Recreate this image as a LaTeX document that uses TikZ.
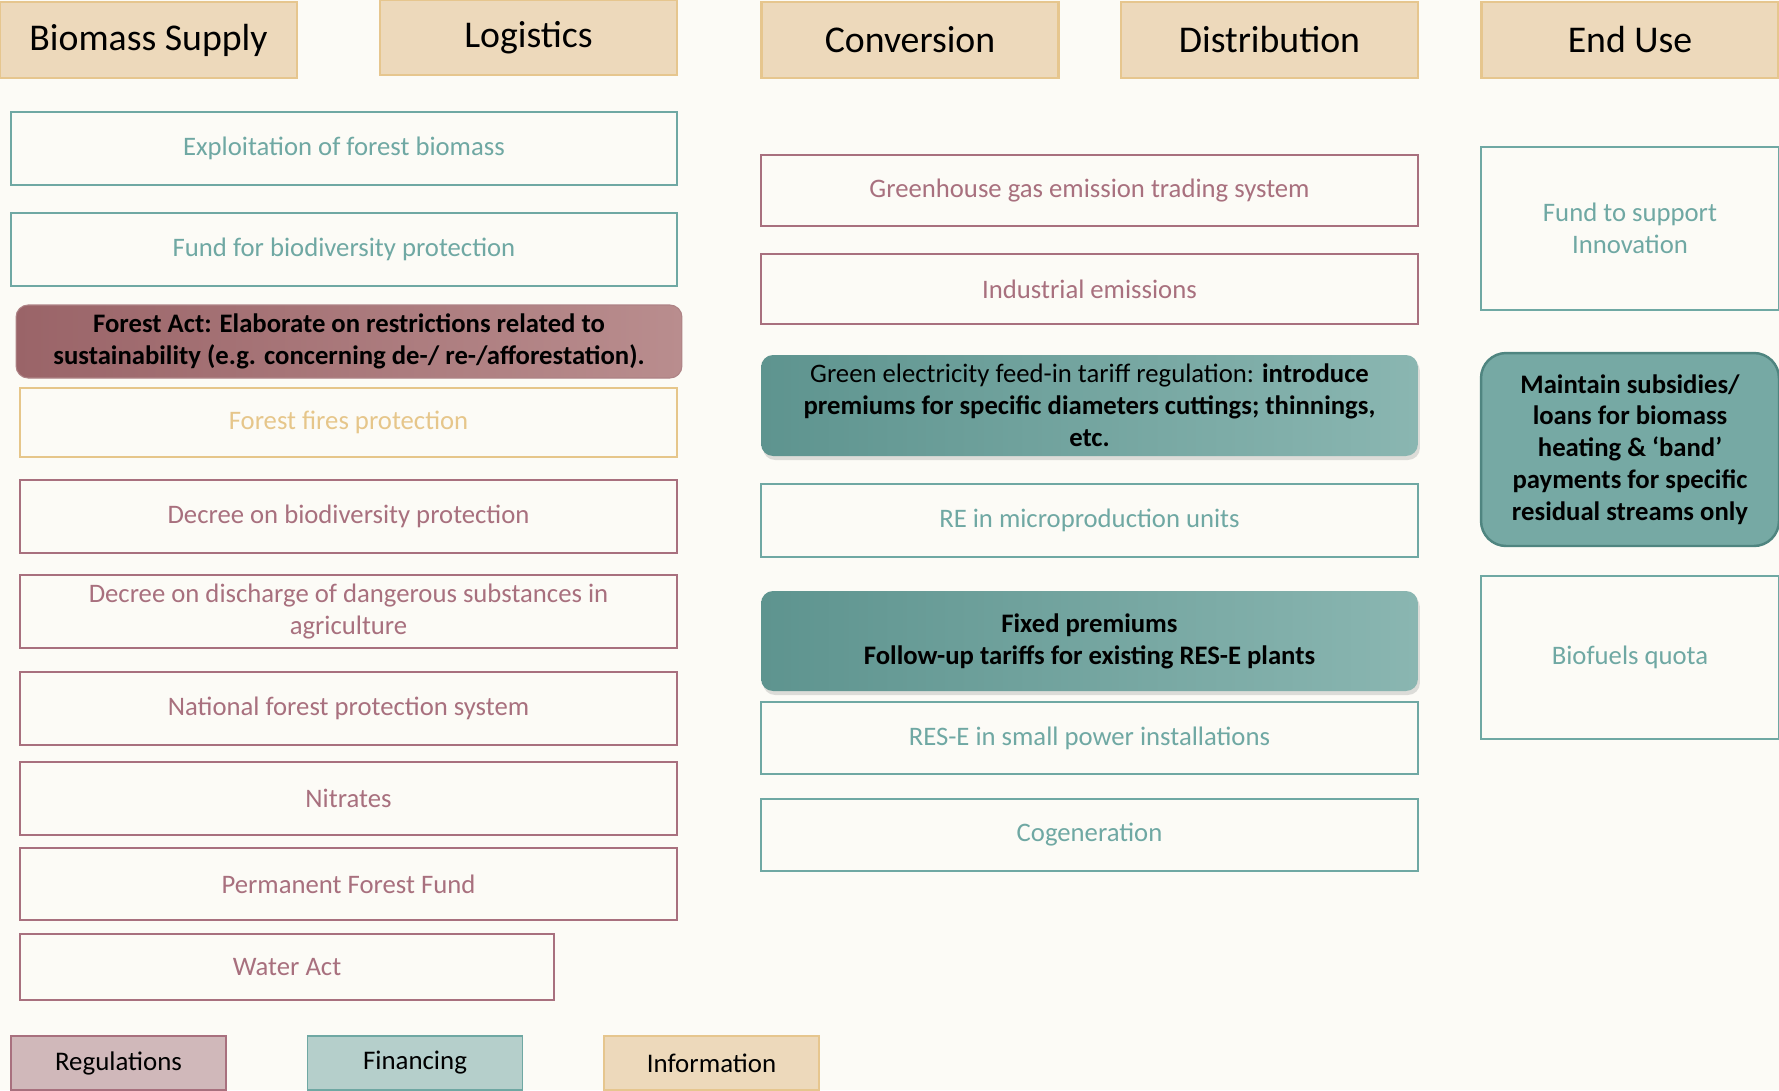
\documentclass[tikz,border=0pt]{standalone}
\usepackage{fontspec}
\setmainfont{Carlito}
\usetikzlibrary{shadows}

\definecolor{paper}{HTML}{FCFBF6}
\definecolor{sand}{HTML}{EDD9BB}
\definecolor{sandline}{HTML}{E6C68E}
\definecolor{tealtxt}{HTML}{6FA8A3}
\definecolor{mauvetxt}{HTML}{A8707E}
\definecolor{goldtxt}{HTML}{E6C68A}
\definecolor{tealdark}{HTML}{5E948F}
\definecolor{teallight}{HTML}{8AB6B1}
\definecolor{tealfill}{HTML}{76A9A4}
\definecolor{tealedge}{HTML}{4F8580}
\definecolor{reddark}{HTML}{9A6468}
\definecolor{redlight}{HTML}{B98D8E}
\definecolor{regfill}{HTML}{D0B8BA}
\definecolor{finfill}{HTML}{B5CFCB}

\begin{document}
\begin{tikzpicture}[x=0.02cm, y=-0.02cm,
  every node/.style={font=\fontsize{15.2}{18.1}\selectfont, align=center, inner sep=2pt},
  header/.style={draw=sandline, fill=sand, line width=1.2pt, minimum width=5.94cm, minimum height=1.52cm, font=\fontsize{21.5}{26}\selectfont},
  tealbox/.style={draw=tealtxt, fill=paper, line width=1.1pt, text=tealtxt, minimum width=#1},
  mauvebox/.style={draw=mauvetxt, fill=paper, line width=1.1pt, text=mauvetxt, minimum width=#1},
  goldbox/.style={draw=goldtxt, fill=paper, line width=1.1pt, text=goldtxt, minimum width=#1},
  redaction/.style={rounded corners=0.24cm, draw=reddark!80, line width=0.6pt, left color=reddark, right color=redlight, font=\fontsize{15.2}{18.1}\selectfont\bfseries, minimum width=13.32cm},
  tealaction/.style={rounded corners=0.24cm, draw=none, left color=tealdark, right color=teallight, drop shadow={opacity=0.25, shadow xshift=0.04cm, shadow yshift=-0.08cm}, minimum width=13.14cm},
  legend/.style={line width=1.1pt, minimum width=4.3cm, minimum height=1.08cm, font=\fontsize{15.3}{18}\selectfont}]

  % page
  \fill[paper] (0,0) rectangle (1779,1090);
  \useasboundingbox (0,0) rectangle (1779,1090);

  % column heads
  \node[header] (supply) at (148.5,40) {Biomass Supply};
  \node[header, minimum height=1.5cm] (logistics) at (528.5,37.5) {Logistics};
  \node[header] (conversion) at (910,40) {Conversion};
  \node[header] (distribution) at (1269.5,40) {Distribution};
  \node[header] (enduse) at (1630,40) {End Use};

  % biomass supply / logistics
  \node[tealbox=13.32cm, minimum height=1.46cm] (exploit) at (344,148.5) {Exploitation of forest biomass};
  \node[tealbox=13.32cm, minimum height=1.46cm] (biofund) at (344,249.5) {Fund for biodiversity protection};
  \node[redaction, minimum height=1.46cm] (forestact) at (349,341.5) {Forest Act: Elaborate on restrictions related to\\sustainability (e.g. concerning de-/ re-/afforestation).};
  \node[goldbox=13.14cm, minimum height=1.38cm] (fires) at (348.5,422.5) {Forest fires protection};
  \node[mauvebox=13.14cm, minimum height=1.46cm] (biodecree) at (348.5,516.5) {Decree on biodiversity protection};
  \node[mauvebox=13.14cm, minimum height=1.46cm] (discharge) at (348.5,611.5) {Decree on discharge of dangerous substances in\\agriculture};
  \node[mauvebox=13.14cm, minimum height=1.46cm] (natforest) at (348.5,708.5) {National forest protection system};
  \node[mauvebox=13.14cm, minimum height=1.46cm] (nitrates) at (348.5,798.5) {Nitrates};
  \node[mauvebox=13.14cm, minimum height=1.44cm] (permfund) at (348.5,884) {Permanent Forest Fund};
  \node[mauvebox=10.68cm, minimum height=1.32cm] (wateract) at (287,967) {Water Act};

  % conversion / distribution
  \node[mauvebox=13.14cm, minimum height=1.42cm] (ghg) at (1089.5,190.5) {Greenhouse gas emission trading system};
  \node[mauvebox=13.14cm, minimum height=1.4cm] (indemis) at (1089.5,289) {Industrial emissions};
  \node[tealaction, minimum height=2.02cm] (feedin) at (1089.5,405.5) {Green electricity feed-in tariff regulation: \textbf{introduce}\\\textbf{premiums for specific diameters cuttings; thinnings,}\\\textbf{etc.}};
  \node[tealbox=13.14cm, minimum height=1.46cm] (micro) at (1089.5,520.5) {RE in microproduction units};
  \node[tealaction, minimum height=2cm, font=\fontsize{15.2}{18.1}\selectfont\bfseries] (premiums) at (1089.5,641) {Fixed premiums\\Follow-up tariffs for existing RES-E plants};
  \node[tealbox=13.14cm, minimum height=1.44cm] (smallpower) at (1089.5,738) {RES-E in small power installations};
  \node[tealbox=13.14cm, minimum height=1.44cm] (cogen) at (1089.5,835) {Cogeneration};

  % end use
  \node[tealbox=5.96cm, minimum height=3.26cm] (innofund) at (1630,228.5) {Fund to support\\Innovation};
  \node[rounded corners=0.5cm, draw=tealedge, fill=tealfill, line width=1.4pt, minimum width=5.96cm, minimum height=3.86cm, font=\fontsize{15.2}{18.1}\selectfont\bfseries] (subsidies) at (1630,449.5) {Maintain subsidies/\\loans for biomass\\heating \& ‘band’\\payments for specific\\residual streams only};
  \node[tealbox=5.96cm, minimum height=3.26cm] (quota) at (1630,657.5) {Biofuels quota};

  % legend
  \node[legend, draw=mauvetxt, fill=regfill] (regs) at (118.5,1063) {Regulations};
  \node[legend, draw=tealtxt, fill=finfill] (fin) at (415,1063) {Financing};
  \node[legend, draw=sandline, fill=sand] (info) at (711.5,1063) {Information};
\end{tikzpicture}
\end{document}
